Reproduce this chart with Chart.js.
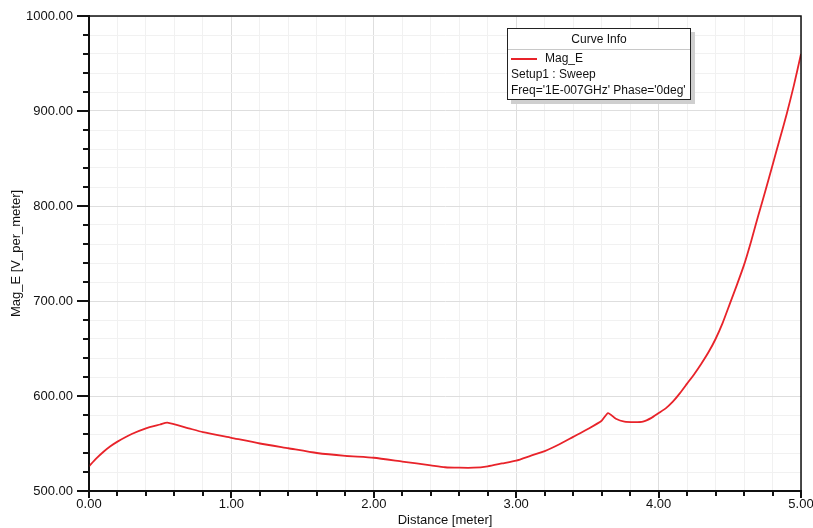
<!DOCTYPE html>
<html lang="en">
<head>
<meta charset="UTF-8">
<title>Mag_E vs Distance</title>
<script src="https://cdn.jsdelivr.net/npm/chart.js"></script>
<style>
  html, body { margin: 0; padding: 0; background: #fff; }
  #wrap { position: relative; width: 813px; height: 528px; }
  #curveInfo {
    position: absolute; left: 507px; top: 28px; width: 182px; height: 70px;
    border: 1.5px solid #222; background: #fff;
    box-shadow: 4px 4px 0 #cfcfcf;
    font: 12px "Liberation Sans", Arial, sans-serif; color: #111;
  }
  #curveInfo .head { height: 20px; line-height: 20px; text-align: center; border-bottom: 1px solid #c8c8c8; }
  #curveInfo .row { height: 16px; line-height: 16px; padding-left: 3px; white-space: nowrap; }
  #curveInfo .swatch { display: inline-block; width: 26px; height: 2px; background: #e8232a; vertical-align: middle; margin-right: 8px; }
</style>
</head>
<body>
<div id="wrap">
  <canvas id="chart" width="813" height="528"></canvas>
  <div id="curveInfo">
    <div class="head">Curve Info</div>
    <div class="row"><span class="swatch"></span>Mag_E</div>
    <div class="row">Setup1 : Sweep</div>
    <div class="row">Freq='1E-007GHz' Phase='0deg'</div>
  </div>
</div>
<script>
// values
const distance = [0, 0.05, 0.1, 0.15, 0.2, 0.3, 0.4, 0.5, 0.55, 0.7, 0.8, 1.0, 1.2, 1.4, 1.6, 1.8, 2.0, 2.2, 2.4, 2.5,
  2.6, 2.7, 2.8, 2.9, 3.0, 3.1, 3.2, 3.3, 3.4, 3.5, 3.6, 3.645, 3.7, 3.76, 3.83, 3.89, 3.95, 4.0, 4.05, 4.1,
  4.15, 4.2, 4.25, 4.3, 4.35, 4.4, 4.45, 4.5, 4.55, 4.6, 4.65, 4.7, 4.75, 4.8, 4.85, 4.9, 4.95, 5.0];
const magE = [526, 534, 541, 547, 552, 560, 566, 570, 572, 566, 562, 556, 550, 545, 540, 537, 535, 531, 527, 525,
  524.5, 524.5, 526, 529, 532, 537, 542, 549, 557, 565, 574, 582, 576, 573, 572.5, 573, 577, 582, 587, 594,
  603, 613, 623, 634, 646, 660, 677, 697, 717, 738, 763, 790, 816, 843, 870, 897, 927, 960];
const xRange = [0, 5];
const yRange = [500, 1000];

const FONT = '"Liberation Sans", Arial, sans-serif';
const isWhole = (v, step) => Math.abs(v / step - Math.round(v / step)) < 1e-6;

// tick marks (major / minor) and the plot frame
const frame = {
  id: 'frame',
  afterDraw(chart) {
    const { ctx, chartArea: a, scales } = chart;
    ctx.save();
    ctx.strokeStyle = '#111';
    ctx.lineWidth = 2;
    ctx.beginPath();
    scales.y.ticks.forEach(t => {
      const y = Math.round(scales.y.getPixelForValue(t.value));
      const len = isWhole(t.value, 100) ? 12 : 6;
      ctx.moveTo(a.left, y); ctx.lineTo(a.left - len, y);
    });
    scales.x.ticks.forEach(t => {
      const x = Math.round(scales.x.getPixelForValue(t.value));
      const len = isWhole(t.value, 1) ? 7 : 5;
      ctx.moveTo(x, a.bottom); ctx.lineTo(x, a.bottom + len);
    });
    ctx.stroke();
    ctx.lineWidth = 1.5;
    ctx.strokeRect(a.left, a.top, a.right - a.left, a.bottom - a.top);
    ctx.restore();
  }
};

new Chart(document.getElementById('chart'), {
  type: 'line',
  data: {
    datasets: [{
      label: 'Mag_E',
      data: distance.map((d, i) => ({ x: d, y: magE[i] })),
      borderColor: '#e8232a',
      borderWidth: 1.8,
      pointRadius: 0,
      tension: 0.2,
      fill: false
    }]
  },
  options: {
    responsive: false,
    animation: false,
    layout: { padding: { top: 16, right: 12, left: 0, bottom: 0 } },
    plugins: { legend: { display: false }, tooltip: { enabled: false } },
    scales: {
      x: {
        type: 'linear',
        min: xRange[0], max: xRange[1],
        afterFit(s) { s.height = 37; s.paddingLeft = 0; s.paddingRight = 0; },
        border: { color: '#111', width: 2 },
        grid: {
          drawTicks: false,
          color: c => isWhole(c.tick.value, 1) ? '#dedede' : '#f1f1f1',
          lineWidth: 1
        },
        ticks: {
          stepSize: 0.2, autoSkip: false, maxRotation: 0, padding: 6,
          color: '#111', font: { family: FONT, size: 13 },
          callback: v => isWhole(v, 1) ? v.toFixed(2) : ''
        },
        title: {
          display: true, text: 'Distance [meter]', color: '#111',
          font: { family: FONT, size: 13 }, padding: { top: 0, bottom: 0 }
        }
      },
      y: {
        type: 'linear',
        min: yRange[0], max: yRange[1],
        afterFit(s) { s.width = 89; s.paddingTop = 0; s.paddingBottom = 0; },
        border: { color: '#111', width: 2 },
        grid: {
          drawTicks: false,
          color: c => isWhole(c.tick.value, 100) ? '#dedede' : '#f1f1f1',
          lineWidth: 1
        },
        ticks: {
          stepSize: 20, autoSkip: false, padding: 16,
          color: '#111', font: { family: FONT, size: 13 },
          callback: v => isWhole(v, 100) ? v.toFixed(2) : ''
        },
        title: {
          display: true, text: 'Mag_E [V_per_meter]', color: '#111',
          font: { family: FONT, size: 13 }, padding: { top: 9, bottom: 0 }
        }
      }
    }
  },
  plugins: [frame]
});
</script>
</body>
</html>
